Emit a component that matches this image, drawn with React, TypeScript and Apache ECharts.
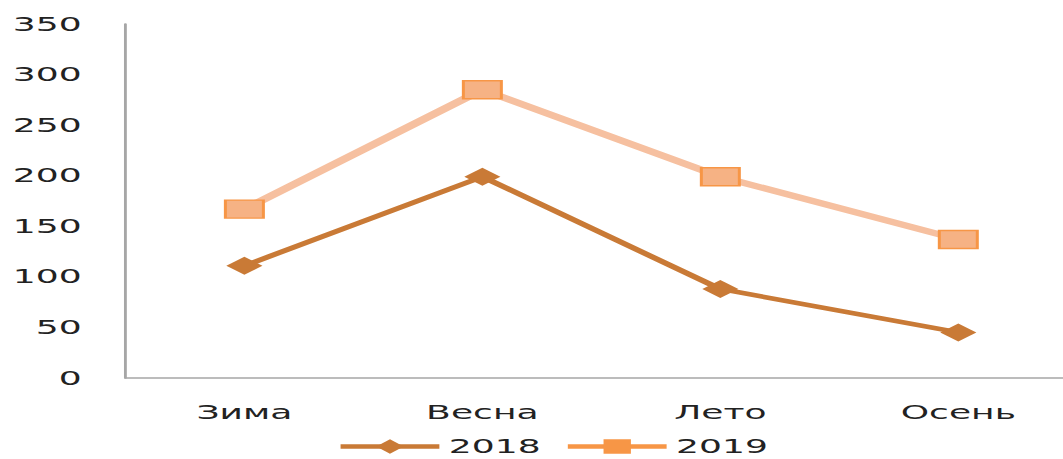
import React, { useEffect, useRef } from "react";
import * as echarts from "echarts";

const seasons = ["Зима", "Весна", "Лето", "Осень"];
const values2018 = [111, 199, 88, 45];
const values2019 = [167, 285, 199, 137];
const yTicks = { min: 0, max: 350, interval: 50 };

// The chart is laid out on a narrower canvas and stretched horizontally;
// the plot area runs past the right edge of the visible frame.
const STRETCH = 1.9;
const FULL_W = 1063;
const FULL_H = 459;
const INNER_W = 575;

export default function App() {
  const ref = useRef<HTMLDivElement>(null);

  useEffect(() => {
    if (!ref.current) return;
    const chart = echarts.init(ref.current, undefined, { renderer: "svg" });
    const font = "DejaVu Sans";
    chart.setOption({
      animation: false,
      backgroundColor: "#ffffff",
      grid: {
        left: 66,
        width: 501,
        top: 24,
        bottom: 81,
        containLabel: false,
        outerBoundsMode: "none",
      },
      legend: {
        left: 172,
        top: 432,
        itemWidth: 52,
        itemHeight: 18,
        itemGap: 12,
        textStyle: { fontFamily: font, fontSize: 19, color: "#222" },
        data: [
          { name: "2018", lineStyle: { width: 4.5 } },
          {
            name: "2019",
            lineStyle: { color: "#F79646", width: 4.5 },
            itemStyle: { color: "#F79646", borderWidth: 0 },
          },
        ],
      },
      xAxis: {
        type: "category",
        data: seasons,
        boundaryGap: true,
        axisLine: { lineStyle: { color: "#A6A6A6", width: 1.5 } },
        axisTick: { show: false },
        axisLabel: { fontFamily: font, fontSize: 19, color: "#222", margin: 25 },
        splitLine: { show: false },
      },
      yAxis: {
        type: "value",
        min: yTicks.min,
        max: yTicks.max,
        interval: yTicks.interval,
        axisLine: { show: true, lineStyle: { color: "#A6A6A6", width: 1.5 } },
        axisTick: { show: false },
        axisLabel: { fontFamily: font, fontSize: 19, color: "#222", margin: 23 },
        splitLine: { show: false },
      },
      series: [
        {
          name: "2018",
          type: "line",
          data: values2018,
          symbol: "diamond",
          symbolSize: [19, 18],
          lineStyle: { color: "#C97A36", width: 4.5 },
          itemStyle: { color: "#C97A36" },
        },
        {
          name: "2019",
          type: "line",
          data: values2019,
          symbol: "rect",
          symbolSize: [20, 18],
          lineStyle: { color: "#F6C0A0", width: 6 },
          itemStyle: { color: "#F6B284", borderColor: "#F79646", borderWidth: 1.5 },
        },
      ],
    });
    return () => chart.dispose();
  }, []);

  return (
    <div
      style={{
        position: "fixed",
        left: 0,
        top: 0,
        width: FULL_W,
        height: FULL_H,
        overflow: "hidden",
        background: "#fff",
      }}
    >
      <div
        ref={ref}
        style={{
          width: INNER_W,
          height: FULL_H,
          transform: `scaleX(${STRETCH})`,
          transformOrigin: "0 0",
        }}
      />
    </div>
  );
}
